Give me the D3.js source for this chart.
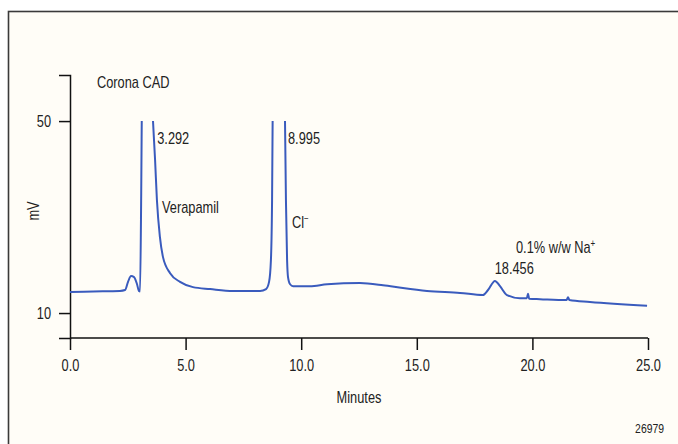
<!DOCTYPE html>
<html>
<head>
<meta charset="utf-8">
<script src="https://cdn.jsdelivr.net/npm/d3@7"></script>
<style>
  body { margin: 0; background: #fff; }
  svg text { font-family: "Liberation Sans", Arial, sans-serif; fill: #222; }
</style>
</head>
<body>
<svg id="chart" width="678" height="444"></svg>
<script>
// retention time (min) and detector signal (mV)
var times = [0, 1.0, 2.16, 2.38, 2.51, 2.64, 2.77, 2.90, 2.98, 3.03, 3.08, 3.12, 3.292, 3.50, 3.59, 3.68, 3.76, 3.89, 4.02, 4.33, 4.76, 5.32, 6.06, 7.05, 8.22, 8.48, 8.61, 8.69, 8.74, 8.78, 8.995, 9.26, 9.30, 9.34, 9.39, 9.43, 9.52, 9.65, 10.38, 11.12, 12.54, 13.54, 14.40, 15.44, 16.87, 17.86, 18.08, 18.38, 18.60, 18.90, 19.46, 19.76, 19.81, 19.86, 20.33, 21.48, 21.54, 21.60, 22.49, 24.96];
var mV    = [14.4, 14.5, 14.6, 14.8, 16.5, 17.7, 17.5, 16.0, 14.6, 14.5, 35, 60, 95, 60, 50, 41.9, 33.5, 25.8, 21.7, 18.3, 16.5, 15.4, 15.0, 14.6, 14.6, 15.0, 16.5, 21, 33.5, 60, 100, 60, 49.8, 33.5, 21, 17.5, 16.0, 15.6, 15.6, 16.0, 16.25, 15.8, 15.2, 14.6, 14.2, 13.75, 14.8, 16.7, 15.6, 13.75, 13.1, 13.1, 14.0, 13.0, 12.9, 12.7, 13.3, 12.7, 12.3, 11.5];

var xTicks = [0, 5, 10, 15, 20, 25];
var yTicks = [10, 50];

var peakLabels = [
  { t: 3.292, v: 50, text: "3.292" },
  { t: 8.995, v: 50, text: "8.995" },
  { t: 18.456, v: 16.7, text: "18.456" }
];

var NARROW = 0.8; // squeeze text to look like a condensed face
var FS = 16;

var svg = d3.select("#chart");

// panel frame (open to the right and bottom)
svg.append("rect")
  .attr("x", 8.5).attr("y", 11.5)
  .attr("width", 700).attr("height", 460)
  .attr("fill", "#fffdf7")
  .attr("stroke", "#3a3a3a")
  .attr("stroke-width", 1.6);

var x = d3.scaleLinear().domain([0, 25]).range([70, 648]);
var y = d3.scaleLinear().domain([4.8, 59.6]).range([338, 75]);

function label(px, py, str, size, anchor, rot) {
  var t = svg.append("text")
    .attr("transform", "translate(" + px + "," + py + ")" + (rot ? " rotate(" + rot + ")" : "") + " scale(" + NARROW + ",1)")
    .attr("font-size", size)
    .attr("text-anchor", anchor || "start");
  if (str != null) t.text(str);
  return t;
}

// axes
var xAxis = svg.append("g")
  .attr("transform", "translate(0," + y(4.8) + ")")
  .call(d3.axisBottom(x).tickValues(xTicks).tickSize(12).tickPadding(10).tickFormat(d3.format(".1f")));
var yAxis = svg.append("g")
  .attr("transform", "translate(" + x(0) + ",0)")
  .call(d3.axisLeft(y).tickValues(yTicks).tickSize(11).tickPadding(8));

[xAxis, yAxis].forEach(function (g) {
  g.select(".domain").attr("stroke", "#111").attr("stroke-width", 1.5);
  g.selectAll(".tick line").attr("stroke", "#111").attr("stroke-width", 1.5);
  g.selectAll(".tick text").attr("font-size", FS).attr("fill", "#222")
    .style("font-family", '"Liberation Sans", Arial, sans-serif');
});
xAxis.select(".domain").attr("d", "M" + x(0) + ",0H" + x(25));
xAxis.selectAll(".tick text").attr("transform", "scale(" + NARROW + ",1)");
yAxis.selectAll(".tick text")
  .attr("x", -19 / NARROW)
  .attr("transform", "scale(" + NARROW + ",1)");

// trace, clipped at the 50 mV line
svg.append("clipPath").attr("id", "plotClip")
  .append("rect")
  .attr("x", x(0)).attr("y", y(50))
  .attr("width", x(25) - x(0)).attr("height", y(4.8) - y(50));

var line = d3.line()
  .x(function (d, i) { return x(times[i]); })
  .y(function (d) { return y(d); })
  .curve(d3.curveMonotoneX);

svg.append("path")
  .datum(mV)
  .attr("clip-path", "url(#plotClip)")
  .attr("fill", "none")
  .attr("stroke", "#3a5bbd")
  .attr("stroke-width", 2)
  .attr("d", line);

// annotations
label(97, 88, "Corona CAD", FS);

label(x(3.6) + 4, y(50) + 23, peakLabels[0].text, FS);
label(x(9.3) + 3, y(50) + 23, peakLabels[1].text, FS);
label(x(peakLabels[2].t) - 2, y(peakLabels[2].v) - 7, peakLabels[2].text, FS);

label(162, 213, "Verapamil", FS);

var cl = label(292, 228, null, FS);
cl.append("tspan").text("Cl");
cl.append("tspan").attr("font-size", 10).attr("dy", -6).text("−");

var na = label(516, 253, null, FS);
na.append("tspan").text("0.1% w/w Na");
na.append("tspan").attr("font-size", 10).attr("dy", -6).text("+");

label((x(0) + x(25)) / 2, 403, "Minutes", FS, "middle");
label(39, 211, "mV", FS, "middle", -90);
label(664, 433, "26979", 13, "end");
</script>
</body>
</html>
